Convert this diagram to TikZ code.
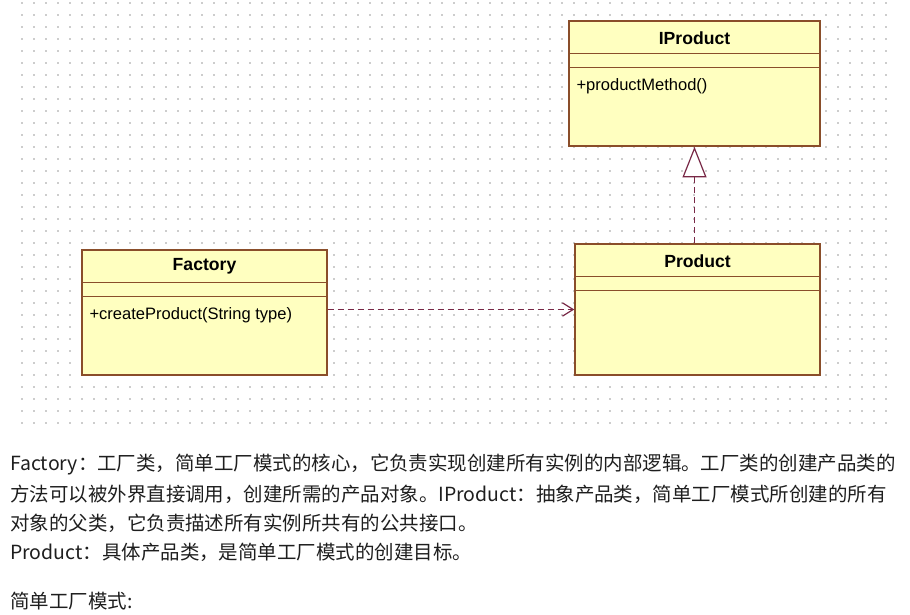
\documentclass[tikz,border=0pt]{standalone}
\usepackage{fontspec}
\setmainfont{Noto Sans CJK SC}
\newfontfamily\umlfont{Liberation Sans}
\usetikzlibrary{calc}
\usetikzlibrary{arrows.meta}
\definecolor{umlFill}{RGB}{255,255,192}
\definecolor{umlBorder}{RGB}{138,78,42}
\definecolor{depColor}{RGB}{120,40,70}
\definecolor{dotGray}{RGB}{205,205,205}
\definecolor{bodyText}{RGB}{30,30,30}

\begin{document}
\begin{tikzpicture}[x=0.75pt, y=-0.75pt,
		classStyle/.style={draw=umlBorder, fill=umlFill, line width=1.1pt, rectangle, inner sep=0pt},
		titleStyle/.style={font=\umlfont\fontsize{13.2}{15}\selectfont\bfseries, inner sep=0pt},
		methodStyle/.style={font=\umlfont\fontsize{12.4}{15}\selectfont, inner sep=0pt, anchor=west},
		partLine/.style={draw=umlBorder, line width=1.1pt},
		depArrow/.style={-{Straight Barb[length=8pt, width=10pt]}, depColor, line width=0.9pt, dash pattern=on 4.5pt off 3pt},
		realArrow/.style={-{Triangle[open, length=23pt, width=18pt, fill=white]}, depColor, line width=0.9pt, dash pattern=on 4.5pt off 3pt},
		textStyle/.style={font=\fontsize{14.6}{18}\selectfont, text=bodyText, anchor=west, inner sep=0pt}]
	
	\useasboundingbox (0,0) rectangle (910,614);
	
	% dotted canvas
	\foreach \gx in {22,34,...,886}
	\foreach \gy in {3,15,...,423}
	\fill[dotGray] (\gx-0.75,\gy-0.75) rectangle ++(1.5,1.5);
	
	\node[classStyle, minimum width=183.75pt, minimum height=93.75pt] (fac) at (204.5,312.5) {};
	\node[classStyle, minimum width=188.25pt, minimum height=93.75pt] (iprod) at (694.5,83.5) {};
	\node[classStyle, minimum width=183.75pt, minimum height=98.25pt] (prod) at (697.5,309.5) {};
	
	\foreach \cls in {fac,iprod,prod}
	\foreach \d in {33,47}
	\draw[partLine] ($(\cls.north west)+(0,\d)$) -- ($(\cls.north east)+(0,\d)$);
	
	\node[titleStyle] (facTitle) at ($(fac.north)+(0,17.5)$) {Factory};
	\node[titleStyle] (iprodTitle) at ($(iprod.north)+(0,17.5)$) {IProduct};
	\node[titleStyle] (prodTitle) at ($(prod.north)+(0,17.5)$) {Product};
	
	\node[methodStyle] (facMethod) at ($(fac.north west)+(8,65.5)$) {+createProduct(String type)};
	\node[methodStyle] (iprodMethod) at ($(iprod.north west)+(8,65.5)$) {+productMethod()};
	
	\draw[depArrow] (fac.east |- prod.west) -- (prod.west);
	\draw[realArrow] (iprod.south |- prod.north) -- (iprod.south);
	
	%%%%%%%%%%%
	\node[textStyle] (line1) at (10,465) {Factory：工厂类，简单工厂模式的核心，它负责实现创建所有实例的内部逻辑。工厂类的创建产品类的};
	\node[textStyle] (line2) at (10,494) {方法可以被外界直接调用，创建所需的产品对象。IProduct：抽象产品类，简单工厂模式所创建的所有};
	\node[textStyle] (line3) at (10,523) {对象的父类，它负责描述所有实例所共有的公共接口。};
	\node[textStyle] (line4) at (10,552) {Product：具体产品类，是简单工厂模式的创建目标。};
	\node[textStyle] (line5) at (10,601) {简单工厂模式:};
\end{tikzpicture}
\end{document}
